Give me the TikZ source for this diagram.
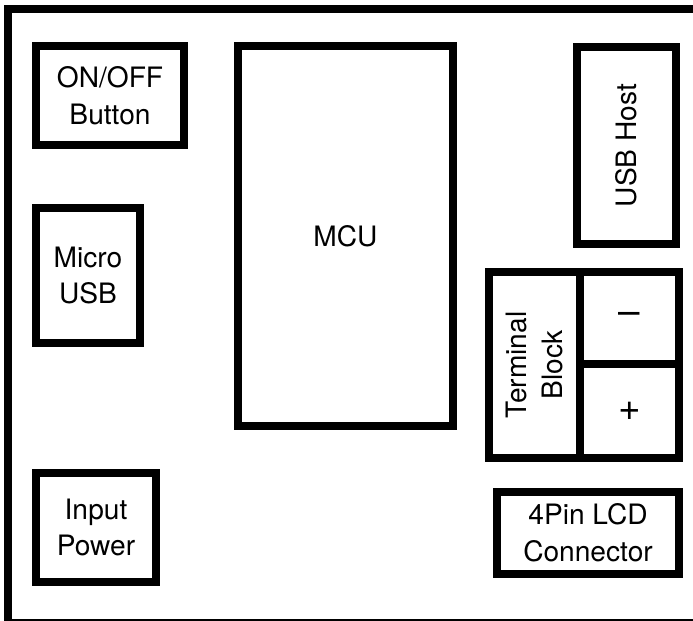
\documentclass[tikz,border=0pt]{standalone}
\usepackage{fontspec}
\setmainfont{TeX Gyre Heros}
\usetikzlibrary{positioning}
\tikzset{
  part/.style={draw=black, line width=4.5pt, inner sep=0pt, align=center,
    font=\fontsize{16}{21}\selectfont},
  sign/.style={font=\fontsize{22}{22}\selectfont},
}
\begin{document}
\begin{tikzpicture}
  \useasboundingbox (0,0) rectangle (13.86,-12.42);
  \clip (0,0) rectangle (13.86,-12.42);

  % Board outline
  \draw[line width=4.8pt] (0.16,-0.18) rectangle (15,-12.47);

  % Left column
  \node[part, minimum width=2.96cm, minimum height=1.98cm] (onoff) at (2.20,-1.91) {ON/OFF\\Button};
  \node[part, minimum width=2.08cm, minimum height=2.70cm] (microusb) at (1.76,-5.51) {Micro\\USB};
  \node[part, minimum width=2.40cm, minimum height=2.18cm] (inpower) at (1.92,-10.55) {Input\\Power};

  % MCU
  \node[part, minimum width=4.30cm, minimum height=7.60cm] (mcu) at (6.91,-4.72) {MCU};

  % Right column
  \node[part, rotate=90, minimum width=3.94cm, minimum height=1.98cm] (usbhost) at (12.53,-2.91) {USB Host};
  \node[part, rotate=90, minimum width=3.72cm, minimum height=1.82cm] (tblock) at (10.69,-7.30) {Terminal\\Block};
  \node[part, sign, minimum width=1.98cm, minimum height=1.84cm] (tminus) at (12.59,-6.36) {–};
  \node[part, sign, minimum width=1.98cm, minimum height=1.88cm] (tplus) at (12.59,-8.22) {+};
  \node[part, minimum width=3.64cm, minimum height=1.64cm] (lcd) at (11.76,-10.66) {4Pin LCD\\Connector};
\end{tikzpicture}
\end{document}
